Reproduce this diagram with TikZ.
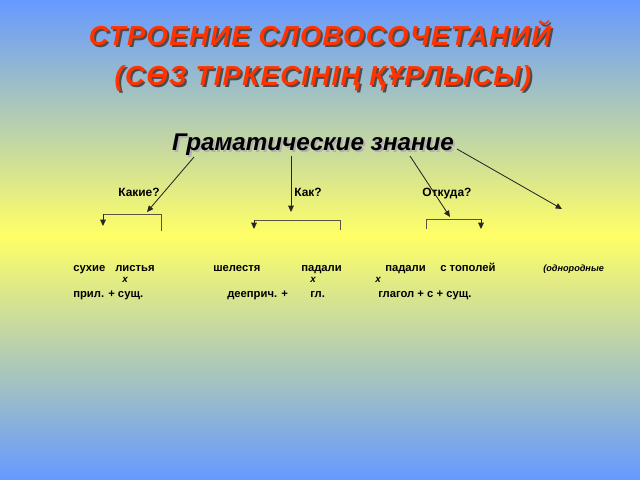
\documentclass[tikz,border=0pt]{standalone}
\usepackage{fontspec}
\setmainfont{Liberation Sans}
\usetikzlibrary{arrows.meta}
\definecolor{fonblue}{HTML}{6699FF}
\definecolor{fonyellow}{HTML}{FFFF66}
\definecolor{titlered}{HTML}{FF3300}
\tikzset{
  strelka/.style={draw=black!85, line width=0.6pt, -{Triangle[length=4.5pt,width=4pt]}},
  skobka/.style={draw=black!75!yellow, line width=0.7pt},
  slovo/.style={font=\fontsize{8}{9}\selectfont\bfseries, inner sep=0pt, anchor=base west},
  vopros/.style={font=\fontsize{8.5}{10}\selectfont\bfseries, inner sep=0pt, anchor=base},
  zagolovok/.style={font=\fontsize{19.5}{22}\selectfont\bfseries\itshape\addfontfeatures{LetterSpace=5}},
}
\begin{document}
\begin{tikzpicture}[x=0.025cm, y=-0.025cm]
\useasboundingbox (0,0) rectangle (640,480);
% Fon
\shade[top color=fonblue, bottom color=fonyellow] (0,0) rectangle (640,235);
\shade[top color=fonyellow, bottom color=fonblue] (0,235) rectangle (640,480);
% Zagolovok
\foreach \dx/\col in {2/black!70, 0/titlered} {
  \node[text=\col, zagolovok] at (320+\dx,33+\dx) {СТРОЕНИЕ СЛОВОСОЧЕТАНИЙ};
  \node[text=\col, zagolovok] at (323+\dx,78+\dx) {(СӨЗ ТІРКЕСІНІҢ ҚҰРЛЫСЫ)};
}
\node[text=black!30, font=\fontsize{17.2}{19}\selectfont\bfseries\itshape] at (315,147) {Граматические знание};
\node[font=\fontsize{17.2}{19}\selectfont\bfseries\itshape] (gram) at (313,145) {Граматические знание};
% Voprosy
\node[vopros] (kakie) at (139,196) {Какие?};
\node[vopros] (kak) at (308,196) {Как?};
\node[vopros] (otkuda) at (447,196) {Откуда?};
% Strelki
\coordinate (s1) at (194,157); \coordinate (e1) at (147,212);
\coordinate (s2) at (291,156); \coordinate (e2) at (291,212);
\coordinate (s3) at (410,156); \coordinate (e3) at (450,217);
\coordinate (s4) at (457,149); \coordinate (e4) at (562,209);
\foreach \i in {1,...,4} {
  \draw[strelka] (s\i) -- (e\i);
}
% Skobki
\draw[skobka] (161,231) -- (161,214) -- (103,214);
\draw[strelka] (103,214) -- (103,226);
\draw[skobka] (340,230) -- (340,220) -- (254,220);
\draw[strelka] (254,220) -- (254,229);
\draw[skobka] (426,229) -- (426,219) -- (481,219);
\draw[strelka] (481,219) -- (481,229);
% Slovosochetaniya
\node[slovo] (w1) at (73,271) {сухие};
\node[slovo] (w2) at (115,271) {листья};
\node[slovo] (w3) at (213,271) {шелестя};
\node[slovo] (w4) at (301,271) {падали};
\node[slovo] (w5) at (385,271) {падали};
\node[slovo] (w6) at (440,271) {с тополей};
\node[slovo, font=\fontsize{6.5}{8}\selectfont\bfseries\itshape] (w7) at (543,271) {(однородные};
\foreach \x in {122,310,375} {
  \node[slovo, font=\fontsize{7}{8}\selectfont\bfseries\itshape] at (\x,282) {x};
}
\node[slovo] (c1) at (73,297) {прил. + сущ.};
\node[slovo] (c2) at (227,297) {дееприч. +};
\node[slovo] (c3) at (310,297) {гл.};
\node[slovo] (c4) at (378,297) {глагол + с + сущ.};
\end{tikzpicture}
\end{document}
